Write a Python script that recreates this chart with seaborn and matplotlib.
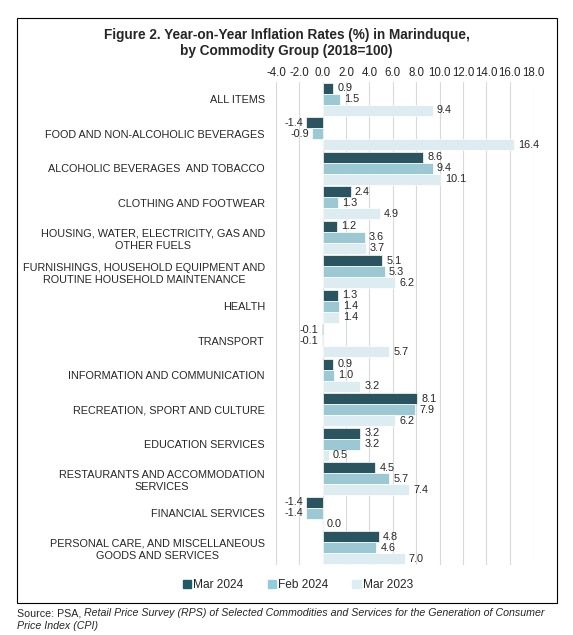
import seaborn as sns
import matplotlib.pyplot as plt
import pandas as pd
from matplotlib.patches import Rectangle

categories = [
    "ALL ITEMS",
    "FOOD AND NON-ALCOHOLIC BEVERAGES",
    "ALCOHOLIC BEVERAGES  AND TOBACCO",
    "CLOTHING AND FOOTWEAR",
    "HOUSING, WATER, ELECTRICITY, GAS AND\nOTHER FUELS",
    "FURNISHINGS, HOUSEHOLD EQUIPMENT AND\nROUTINE HOUSEHOLD MAINTENANCE",
    "HEALTH",
    "TRANSPORT",
    "INFORMATION AND COMMUNICATION",
    "RECREATION, SPORT AND CULTURE",
    "EDUCATION SERVICES",
    "RESTAURANTS AND ACCOMMODATION\nSERVICES",
    "FINANCIAL SERVICES",
    "PERSONAL CARE, AND MISCELLANEOUS\nGOODS AND SERVICES",
]
series = ["Mar 2024", "Feb 2024", "Mar 2023"]
mar_2024 = [0.9, -1.4, 8.6, 2.4, 1.2, 5.1, 1.3, -0.1, 0.9, 8.1, 3.2, 4.5, -1.4, 4.8]
feb_2024 = [1.5, -0.9, 9.4, 1.3, 3.6, 5.3, 1.4, -0.1, 1.0, 7.9, 3.2, 5.7, -1.4, 4.6]
mar_2023 = [9.4, 16.4, 10.1, 4.9, 3.7, 6.2, 1.4, 5.7, 3.2, 6.2, 0.5, 7.4, 0.0, 7.0]
colors = ["#215968", "#92CDDC", "#DAEEF3"]

df = pd.DataFrame({
    "group": categories * 3,
    "series": [s for s in series for _ in categories],
    "value": mar_2024 + feb_2024 + mar_2023,
})

sns.set_style("white")
plt.rcParams["font.family"] = ["Liberation Sans", "DejaVu Sans"]

fig = plt.figure(figsize=(5.73, 6.35), dpi=100)
ax = fig.add_axes([276 / 573, 1 - 565 / 635, (533 - 276) / 573, (565 - 82) / 635])

sns.barplot(data=df, x="value", y="group", hue="series", order=categories,
            hue_order=series, palette=colors, orient="h", width=0.95,
            edgecolor="white", linewidth=0.5, ax=ax, legend=False)

for cont in ax.containers:
    for bar in cont:
        v = bar.get_width()
        y = bar.get_y() + bar.get_height() / 2
        if v < 0:
            ax.text(v - 0.3, y, f"{v:.1f}", ha="right", va="center", fontsize=7.8)
        else:
            ax.text(v + 0.35, y, f"{v:.1f}", ha="left", va="center", fontsize=7.8)

ax.set_xlim(-4, 18)
ax.set_xticks(range(-4, 19, 2))
ax.set_xticklabels([f"{t:.1f}" for t in range(-4, 19, 2)], fontsize=8.3)
ax.xaxis.tick_top()
ax.tick_params(axis="x", length=0, pad=2)
ax.tick_params(axis="y", length=0, pad=8)
ax.set_yticks(range(len(categories)))
ax.set_yticklabels(categories, fontsize=7.8, multialignment="center", linespacing=1.3)
ax.grid(axis="x", color="#D9D9D9", linewidth=0.8)
ax.set_axisbelow(True)
ax.set_xlabel("")
ax.set_ylabel("")
for s in ax.spines.values():
    s.set_visible(False)

fig.text(0.5, 1 - 43 / 635, "Figure 2. Year-on-Year Inflation Rates (%) in Marinduque,\nby Commodity Group (2018=100)",
         ha="center", va="center", fontsize=9.8, fontweight="bold", linespacing=1.25)

handles = [Rectangle((0, 0), 1, 1, color=c) for c in colors]
fig.legend(handles, series, loc="center", bbox_to_anchor=(298 / 573, 1 - 585 / 635), ncol=3,
           frameon=False, fontsize=8.6, handlelength=0.7, handleheight=0.7, handletextpad=0.2,
           columnspacing=2.0)

fig.patches.append(Rectangle((17 / 573, 1 - 603 / 635), (557 - 17) / 573, (603 - 18) / 635,
                             transform=fig.transFigure, fill=False, edgecolor="black", linewidth=0.8))

src = fig.text(17 / 573, 1 - 613 / 635, "Source: PSA, ", fontsize=7.65, va="center", ha="left")
fig.canvas.draw()
bb = src.get_window_extent(renderer=fig.canvas.get_renderer())
fig.text(bb.x1 / fig.bbox.width, 1 - 613 / 635,
         "Retail Price Survey (RPS) of Selected Commodities and Services for the Generation of Consumer",
         fontsize=7.65, va="center", ha="left", style="italic")
fig.text(17 / 573, 1 - 626 / 635, "Price Index (CPI)", fontsize=7.65, va="center", ha="left", style="italic")

fig.savefig("out.png", dpi=100)
